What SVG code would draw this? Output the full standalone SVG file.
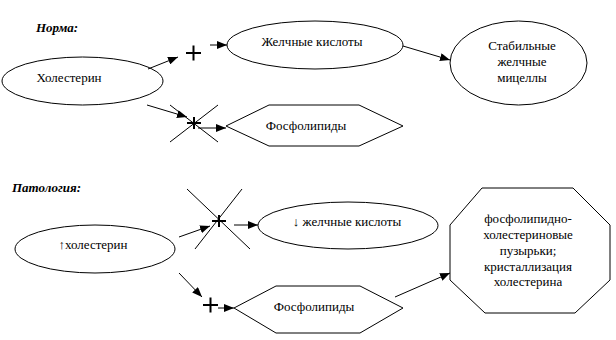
<svg xmlns="http://www.w3.org/2000/svg" width="616" height="340" viewBox="0 0 616 340">
<style>
.shape{fill:#fff;stroke:#000;stroke-width:1}
.t{font-family:"Liberation Serif","DejaVu Serif","Times New Roman",serif;font-size:13px;fill:#000}
.title{font-family:"Liberation Serif","DejaVu Serif","Times New Roman",serif;font-size:13px;font-weight:bold;font-style:italic;fill:#000}
.c{stroke:#000;stroke-width:1;fill:none}
.p{stroke:#000;stroke-width:2;fill:none}
.a{marker-end:url(#arr)}
</style>
<defs>
<marker id="arr" viewBox="0 0 10 8" refX="10" refY="4" markerWidth="10" markerHeight="8" markerUnits="userSpaceOnUse" orient="auto">
<path d="M0,0 L10,4 L0,8 z" fill="#000"/>
</marker>
</defs>
<rect width="616" height="340" fill="#fff"/>
<text class="title" x="36" y="32">Норма:</text>
<text class="title" x="12" y="192">Патология:</text>

<g id="n-cholesterol">
<ellipse class="shape" cx="82.5" cy="81" rx="80.5" ry="24"/>
<text class="t" x="69" y="82" text-anchor="middle">Холестерин</text>
</g>
<g id="n-bile-acids">
<ellipse class="shape" cx="315" cy="45" rx="88" ry="24"/>
<text class="t" x="312" y="46" text-anchor="middle">Желчные кислоты</text>
</g>
<g id="n-micelles">
<ellipse class="shape" cx="518.5" cy="63" rx="68.5" ry="42"/>
<text class="t" x="522" text-anchor="middle"><tspan x="522" y="50">Стабильные</tspan><tspan x="522" y="66">желчные</tspan><tspan x="522" y="82">мицеллы</tspan></text>
</g>
<g id="n-phospholipids">
<polygon class="shape" points="226,126 269,105 359,105 403,126 359,146 269,146"/>
<text class="t" x="306" y="130" text-anchor="middle">Фосфолипиды</text>
</g>

<g id="n-cholesterol-up">
<ellipse class="shape" cx="95" cy="249" rx="80" ry="24"/>
<text class="t" x="93" y="249" text-anchor="middle">↑холестерин</text>
</g>
<g id="n-bile-acids-down">
<ellipse class="shape" cx="348" cy="225.5" rx="90" ry="23.5"/>
<text class="t" x="347" y="226" text-anchor="middle">↓ желчные кислоты</text>
</g>
<g id="n-phospholipids-2">
<polygon class="shape" points="234,308 276,286 360,286 403,308 360,333 276,333"/>
<text class="t" x="314" y="311" text-anchor="middle">Фосфолипиды</text>
</g>
<g id="n-vesicles">
<polygon class="shape" points="482,188 573,188 610,225 610,280 575,313 485,313 450,280 450,225"/>
<text class="t" x="528" text-anchor="middle"><tspan x="528" y="223">фосфолипидно-</tspan><tspan x="528" y="239">холестериновые</tspan><tspan x="528" y="255">пузырьки;</tspan><tspan x="528" y="271">кристаллизация</tspan><tspan x="528" y="286">холестерина</tspan></text>
</g>

<g id="connectors">
<line class="c a" x1="148" y1="69" x2="178" y2="57"/>
<path class="p" d="M186,53 H201 M193.5,45.5 V60.5"/>
<line class="c a" x1="210" y1="45" x2="227" y2="45"/>
<line class="c a" x1="403" y1="46" x2="450" y2="60"/>

<line class="c a" x1="147" y1="105" x2="187" y2="117"/>
<line class="c" x1="170" y1="105" x2="218" y2="142"/>
<line class="c" x1="218" y1="105" x2="170" y2="142"/>
<path class="p" d="M187,123 H201 M194,117 V129"/>
<line class="c a" x1="198" y1="128" x2="226" y2="128"/>

<line class="c a" x1="179" y1="237" x2="210" y2="226"/>
<line class="c" x1="187" y1="189" x2="250" y2="249"/>
<line class="c" x1="242" y1="189" x2="195" y2="249"/>
<path class="p" d="M212,221 H226 M219,215 V227"/>
<line class="c a" x1="234" y1="225" x2="258" y2="225"/>

<line class="c a" x1="179" y1="273" x2="202" y2="297"/>
<path class="p" d="M203,305 H218 M210.5,297.5 V312.5"/>
<line class="c a" x1="218" y1="308" x2="234" y2="308"/>
<line class="c a" x1="395" y1="297" x2="450" y2="273"/>
</g>
</svg>
